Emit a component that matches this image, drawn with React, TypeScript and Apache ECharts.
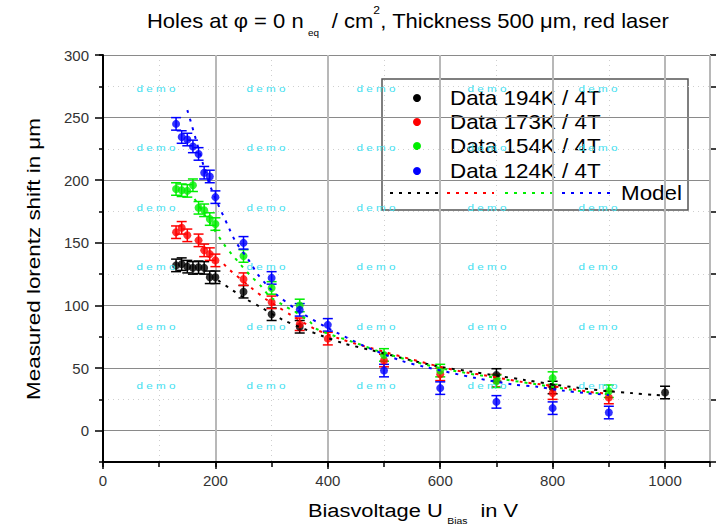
import React, { useEffect, useRef } from 'react';
import * as echarts from 'echarts';

const FONT = '"Liberation Sans", Arial, Helvetica, sans-serif';

// ---------- data ----------
const legendLabels = ['Data 194K / 4T', 'Data 173K / 4T', 'Data 154K / 4T', 'Data 124K / 4T'];
const modelLabel = 'Model';
const seriesColors = ['#000000', '#ff0000', '#00ee00', '#0000ff'];

const v194 = [130, 140, 150, 160, 170, 180, 190, 200, 250, 300, 350, 700, 800, 1000];
const s194 = [132, 133, 131, 130, 130.5, 130, 122.5, 122.5, 111, 93, 83, 44.5, 34.5, 30.5];

const v173 = [130, 140, 150, 170, 180, 190, 200, 250, 300, 350, 400, 500, 600, 700, 800, 900];
const s173 = [158.5, 162, 156, 152, 144, 141, 136, 121, 102.5, 85, 73.5, 56, 45, 40, 30, 26.5];

const v154 = [130, 140, 150, 160, 170, 180, 190, 200, 250, 300, 350, 500, 600, 700, 800, 900];
const s154 = [193, 192, 191.5, 196, 178, 176, 169, 165, 139.5, 114, 100, 60.5, 48, 39.5, 42, 31.5];

const v124 = [130, 140, 150, 160, 170, 180, 190, 200, 250, 300, 350, 400, 500, 600, 700, 800, 900];
const s124 = [245, 234.5, 232.5, 227, 221, 206, 203, 186.5, 150, 122, 96.5, 84.5, 48, 34, 23, 18, 14.5];

const errBar = 5;

const mBlackV = [205, 231, 255, 279, 320, 365, 388, 430, 480, 550, 600, 650, 700, 750, 800, 850, 900, 942, 983, 1000];
const mBlackS = [120, 112, 105, 99, 88.5, 80, 76, 69.5, 64, 56, 51, 47.5, 44, 40.5, 37, 34, 31.5, 30, 28.5, 28];

const mRedV = [215, 225, 267, 290, 311, 334, 378, 424, 500, 600, 652, 676, 744, 779, 824, 865, 900];
const mRedS = [133, 128.5, 113, 105, 99, 92.5, 81, 73, 63, 51, 46, 44.5, 39, 37, 34, 31, 29.5];

const mGreenV = [163, 190, 215, 229, 245, 262, 281, 297, 322, 345, 368, 381, 450, 500, 600, 700, 764, 859, 900];
const mGreenS = [185, 166, 149, 141, 132.5, 124, 115.5, 107, 100, 94, 87, 81, 70, 62, 50, 42, 37.5, 31, 29];

const mBlueV = [150, 156, 178, 191, 225, 236, 261, 275, 290, 308, 350, 400, 468, 530, 572, 664, 729, 773, 818, 859, 886, 900];
const mBlueS = [256, 247, 213, 195, 161, 151, 135, 125, 117, 109, 95, 82, 67, 56, 51, 42, 37, 35, 32, 30, 29, 28.5];

const xTicks = { min: 0, max: 1080, major: 200, minor: 100 };
const yTicks = { min: -25, max: 300, major: 50 };

const dataSets = [
  { v: v194, s: s194 },
  { v: v173, s: s173 },
  { v: v154, s: s154 },
  { v: v124, s: s124 },
];
const modelSets = [
  { v: mBlackV, s: mBlackS },
  { v: mRedV, s: mRedS },
  { v: mGreenV, s: mGreenS },
  { v: mBlueV, s: mBlueS },
];

const zip = (a: number[], b: number[]) => a.map((x, i) => [x, b[i]]);

function errorSeries(data: number[][], color: string) {
  return {
    type: 'custom',
    data: data.map((d) => [d[0], d[1], errBar]),
    encode: { x: 0, y: 1 },
    silent: true,
    renderItem: (_params: any, api: any) => {
      const x = api.value(0);
      const y = api.value(1);
      const e = api.value(2);
      const hi = api.coord([x, y + e]);
      const lo = api.coord([x, y - e]);
      const w = 5;
      const style = { stroke: color, lineWidth: 1.5 };
      return {
        type: 'group',
        children: [
          { type: 'line', shape: { x1: hi[0], y1: hi[1], x2: lo[0], y2: lo[1] }, style },
          { type: 'line', shape: { x1: hi[0] - w, y1: hi[1], x2: hi[0] + w, y2: hi[1] }, style },
          { type: 'line', shape: { x1: lo[0] - w, y1: lo[1], x2: lo[0] + w, y2: lo[1] }, style },
        ],
      };
    },
  };
}

function buildOption() {
  const series: any[] = [];
  modelSets.forEach((m, i) => {
    series.push({
      type: 'line',
      data: zip(m.v, m.s),
      smooth: 0.3,
      showSymbol: false,
      symbol: 'none',
      silent: true,
      lineStyle: { color: seriesColors[i], width: 2, type: [3, 6] },
    });
  });
  dataSets.forEach((d, i) => {
    const pts = zip(d.v, d.s);
    series.push(errorSeries(pts, seriesColors[i]));
    series.push({
      type: 'scatter',
      name: legendLabels[i],
      data: pts,
      symbol: 'circle',
      symbolSize: 8,
      itemStyle: { color: seriesColors[i] },
    });
  });

  // legend drawn by hand
  const lx = 382, ly = 79, lw = 306, lh = 131;
  const rowY = [98, 122, 146, 171];
  const legendEls: any[] = [
    { type: 'rect', shape: { x: lx, y: ly, width: lw, height: lh }, style: { fill: '#fff', stroke: '#555', lineWidth: 1.5 } },
  ];
  rowY.forEach((y, i) => {
    legendEls.push({ type: 'circle', shape: { cx: 417, cy: y, r: 4 }, style: { fill: seriesColors[i] } });
    legendEls.push({
      type: 'text', x: 450, y, scaleX: 1.12,
      style: { text: legendLabels[i], fill: '#000', font: `20px ${FONT}`, textAlign: 'left', textVerticalAlign: 'middle' },
    });
  });
  const segs = [[390, 442], [447, 494], [505, 557], [562, 615]];
  segs.forEach((s, i) => {
    legendEls.push({
      type: 'line', shape: { x1: s[0], y1: 193, x2: s[1], y2: 193 },
      style: { stroke: seriesColors[i], lineWidth: 2, lineDash: [3, 6] },
    });
  });
  legendEls.push({
    type: 'text', x: 682, y: 193, scaleX: 1.12,
    style: { text: modelLabel, fill: '#000', font: `20px ${FONT}`, textAlign: 'right', textVerticalAlign: 'middle' },
  });

  const demoCols = [156, 266, 376, 487, 598];
  const demoRows = [89, 148, 208, 267, 327, 386];
  const demoEls: any[] = [];
  demoRows.forEach((y) =>
    demoCols.forEach((x) =>
      demoEls.push({
        type: 'text', x, y, z: 200, silent: true, scaleX: 1.3,
        style: { text: 'd e m o', fill: '#3fe0f0', font: `9px ${FONT}`, textAlign: 'center', textVerticalAlign: 'middle' },
      })
    )
  );

  const graphic: any[] = [
    {
      type: 'text', x: 408, y: 21, z: 50, scaleX: 1.1,
      style: {
        text: '{t|Holes at φ = 0 n}{sub|eq}{t| / cm}{sup|2}{t|, Thickness 500 μm, red laser}',
        textAlign: 'center', textVerticalAlign: 'middle',
        rich: {
          t: { fontSize: 20, fontFamily: FONT, fill: '#000', lineHeight: 32, verticalAlign: 'middle' },
          sub: { fontSize: 9, fontFamily: FONT, fill: '#000', lineHeight: 11, verticalAlign: 'bottom', padding: [0, 6, 0, 4] },
          sup: { fontSize: 11, fontFamily: FONT, fill: '#000', lineHeight: 13, verticalAlign: 'top' },
        },
      },
    },
    {
      type: 'text', x: 413, y: 510, z: 50, scaleX: 1.15,
      style: {
        text: '{t|Biasvoltage U}{sub|Bias}{t| in V}',
        textAlign: 'center', textVerticalAlign: 'middle',
        rich: {
          t: { fontSize: 19, fontFamily: FONT, fill: '#000', lineHeight: 30, verticalAlign: 'middle' },
          sub: { fontSize: 9, fontFamily: FONT, fill: '#000', lineHeight: 11, verticalAlign: 'bottom', padding: [0, 6, 0, 4] },
        },
      },
    },
    {
      type: 'text', x: 33, y: 259, rotation: Math.PI / 2, z: 50, scaleX: 1.18,
      style: { text: 'Measured lorentz shift in μm', fill: '#000', font: `19px ${FONT}`, textAlign: 'center', textVerticalAlign: 'middle' },
    },
    { type: 'group', z: 100, children: legendEls },
    ...demoEls,
  ];

  return {
    animation: false,
    backgroundColor: '#ffffff',
    grid: { left: 103, right: 11, top: 55, bottom: 64, containLabel: false },
    xAxis: [
      {
        type: 'value', min: xTicks.min, max: xTicks.max, interval: xTicks.major, z: 1,
        axisLine: { show: true, onZero: false, lineStyle: { color: '#000', width: 2 } },
        axisTick: { show: true, length: 7, lineStyle: { color: '#000', width: 1.5 } },
        axisLabel: {
          show: true, showMaxLabel: false, color: '#333', fontSize: 15, fontFamily: FONT, margin: 11,
          formatter: (v: number) => String(v),
        },
        splitLine: { show: true, lineStyle: { color: '#b8b8b8', width: 2 } },
      },
      {
        type: 'value', position: 'bottom', min: xTicks.min, max: xTicks.max, interval: xTicks.minor, z: 0,
        axisLine: { show: false, onZero: false },
        axisTick: { show: true, length: 5, lineStyle: { color: '#000', width: 1.5 } },
        axisLabel: { show: false },
        splitLine: { show: true, lineStyle: { color: '#cfcfcf', width: 1, type: [1, 4] } },
      },
    ],
    yAxis: [
      {
        type: 'value', min: yTicks.min, max: yTicks.max, minInterval: yTicks.major, maxInterval: yTicks.major, z: 1,
        axisLine: { show: true, onZero: false, lineStyle: { color: '#000', width: 2 } },
        axisTick: { show: true, length: 8, lineStyle: { color: '#000', width: 1.5 } },
        axisLabel: {
          show: true, showMinLabel: false, color: '#333', fontSize: 15, fontFamily: FONT, margin: 14,
          formatter: (v: number) => String(v),
        },
        splitLine: { show: true, lineStyle: { color: '#8a8a8a', width: 1 } },
      },
      {
        type: 'value', position: 'right', min: yTicks.min, max: yTicks.max, interval: yTicks.major, z: 0,
        axisLine: { show: true, onZero: false, lineStyle: { color: '#cccccc', width: 1 } },
        axisTick: { show: true, length: 6, lineStyle: { color: '#000', width: 1.5 } },
        axisLabel: { show: false },
        splitLine: { show: true, lineStyle: { color: '#cfcfcf', width: 1, type: [1, 4] } },
      },
      {
        type: 'value', position: 'left', min: yTicks.min, max: yTicks.max, interval: yTicks.major, z: 0,
        axisLine: { show: false, onZero: false },
        axisTick: { show: true, length: 4, lineStyle: { color: '#000', width: 1.5 } },
        axisLabel: { show: false },
        splitLine: { show: false },
      },
    ],
    series,
    graphic,
  };
}

export default function App() {
  const ref = useRef<HTMLDivElement>(null);
  useEffect(() => {
    if (!ref.current) return;
    const chart = echarts.init(ref.current, undefined, { renderer: 'svg' });
    chart.setOption(buildOption() as any);
    return () => chart.dispose();
  }, []);
  return (
    <div
      ref={ref}
      style={{ position: 'fixed', left: 0, top: 0, width: 721, height: 526, background: '#fff' }}
    />
  );
}
